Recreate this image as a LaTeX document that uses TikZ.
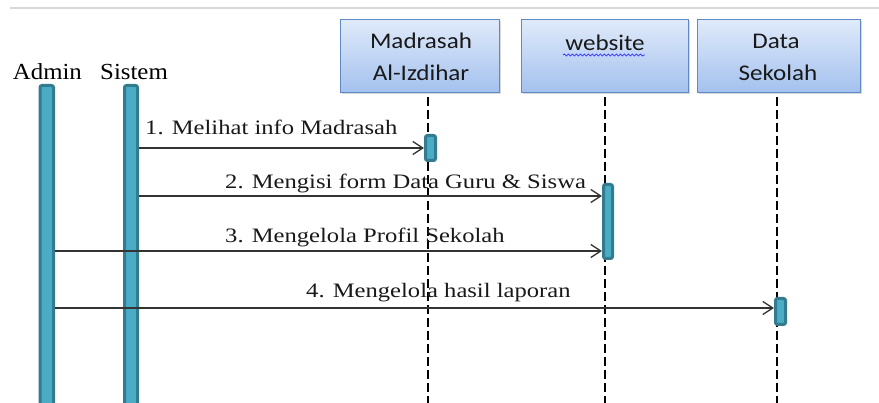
\documentclass[tikz,border=0pt]{standalone}
\usepackage{fontspec}
\setmainfont{Liberation Serif}
\newfontfamily\boxfont{Carlito}
\usetikzlibrary{arrows.meta,shadows,decorations.pathmorphing}
\definecolor{barfill}{HTML}{4BACC6}
\definecolor{barline}{HTML}{337C90}
\definecolor{boxtop}{HTML}{E0EAFA}
\definecolor{boxbot}{HTML}{A4C1EE}
\definecolor{boxline}{HTML}{5F89C6}
\newcommand{\msgtext}[1]{\scalebox{1.2}[1]{#1}}
\newcommand{\acttext}[1]{\scalebox{1.08}[1]{#1}}
\newcommand{\objtext}[1]{\scalebox{1.12}[1]{#1}}
\begin{document}
\begin{tikzpicture}[x=1pt,y=-1pt,
  bar/.style={draw=barline, fill=barfill, line width=3pt, rounded corners=2pt, inner sep=0pt, anchor=north west},
  objbox/.style={draw=boxline, top color=boxtop, bottom color=boxbot, line width=1.3pt, inner sep=0pt, anchor=north west,
     drop shadow={opacity=0.3, shadow xshift=1.2pt, shadow yshift=-1.6pt}},
  objlabel/.style={font=\boxfont\fontsize{22.4pt}{26pt}\selectfont, inner sep=0pt, anchor=base, text=black!90},
  actlabel/.style={font=\fontsize{23pt}{26pt}\selectfont, inner sep=0pt, anchor=base west},
  msglabel/.style={font=\fontsize{20.5pt}{24pt}\selectfont, inner sep=0pt, anchor=base west, text=black!90},
  lifeline/.style={draw=black, line width=1.5pt, dash pattern=on 9pt off 4pt},
  msg/.style={draw=black!80, line width=1.3pt, -{Straight Barb[length=10pt,width=13pt,line width=1.3pt]}}]
\useasboundingbox (0,0) rectangle (879,403);
\fill[white] (0,0) rectangle (879,403);
% top rule
\draw[black!15, line width=2.5pt] (10,8) -- (879,8);

% object boxes
\node[objbox, minimum width=158.7pt, minimum height=72.7pt] (madbox) at (340,19) {};
\node[objbox, minimum width=166.7pt, minimum height=72.7pt] (webbox) at (521,19) {};
\node[objbox, minimum width=162.7pt, minimum height=72.7pt] (databox) at (697,19) {};
\node[objlabel] (madl1) at (421,49) {\objtext{Madrasah}};
\node[objlabel] (madl2) at (421,80.5) {\objtext{Al-Izdihar}};
\node[objlabel] (webl) at (605,51) {\objtext{website}};
\node[objlabel] (datal1) at (776,49) {\objtext{Data}};
\node[objlabel] (datal2) at (778,80.5) {\objtext{Sekolah}};
\draw[blue!80, line width=0.8pt, decorate, decoration={snake, segment length=4pt, amplitude=1pt}] (webl.base west |- 0,55) ++(-2,0) coordinate (w1) -- (webl.base east |- 0,55) coordinate (w2);

% lifelines
\coordinate (madtop) at (428,97);
\coordinate (madbot) at (428,403);
\coordinate (webtop) at (605,97);
\coordinate (webbot) at (605,403);
\coordinate (datatop) at (777,97);
\coordinate (databot) at (777,403);
\draw[lifeline] (madtop) -- (madbot);
\draw[lifeline] (webtop) -- (webbot);
\draw[lifeline] (datatop) -- (databot);

% actor labels
\node[actlabel] (adminl) at (12.7,80) {\acttext{Admin}};
\node[actlabel] (sisteml) at (100,80) {\acttext{Sistem}};

% activation bars
\node[bar, minimum width=13.5pt, minimum height=323pt] (adminbar) at (38.5,84) {};
\node[bar, minimum width=13pt, minimum height=323pt] (sistembar) at (123,84) {};
\node[bar, minimum width=10pt, minimum height=25pt] (madact) at (424,134) {};
\node[bar, minimum width=9pt, minimum height=74pt] (webact) at (602,183) {};
\node[bar, minimum width=10pt, minimum height=26pt] (dataact) at (774,297) {};

% messages
\coordinate (m1) at (0,148);
\coordinate (m2) at (0,196);
\coordinate (m3) at (0,251);
\coordinate (m4) at (0,308);
\draw[msg] (sistembar.east |- m1) -- (madact.west |- m1);
\draw[msg] (sistembar.east |- m2) -- (webact.west |- m2);
\draw[msg] (adminbar.east |- m3) -- (webact.west |- m3);
\draw[msg] (adminbar.east |- m4) -- (dataact.west |- m4);
\node[msglabel] (t1) at (145,135) {\msgtext{1. Melihat info Madrasah}};
\node[msglabel] (t2) at (225,189) {\msgtext{2. Mengisi form Data Guru \& Siswa}};
\node[msglabel] (t3) at (225,243) {\msgtext{3. Mengelola Profil Sekolah}};
\node[msglabel] (t4) at (306,298) {\msgtext{4. Mengelola hasil laporan}};
\end{tikzpicture}
\end{document}
